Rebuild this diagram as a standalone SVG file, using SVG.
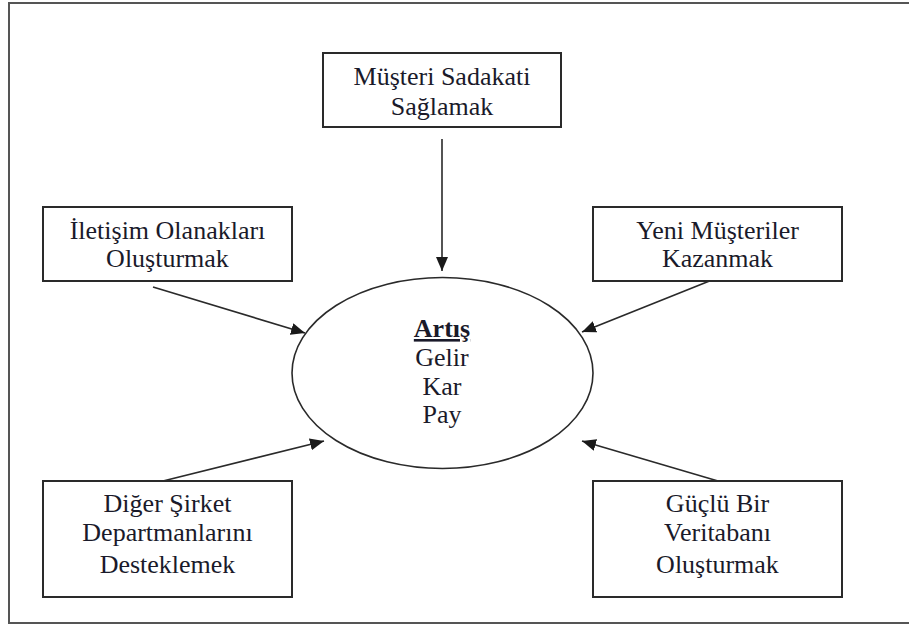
<svg xmlns="http://www.w3.org/2000/svg" width="909" height="626" viewBox="0 0 909 626">
<style>
.box{fill:#fff;stroke:#2a2a2a;stroke-width:2}
.lbl{font-family:"Liberation Serif","Times New Roman",serif;font-size:26px;fill:#1a1a2a;text-anchor:middle}
.conn{stroke:#2a2a2a;stroke-width:1.6;fill:none;marker-end:url(#ah)}
</style>
<defs>
<marker id="ah" markerUnits="userSpaceOnUse" markerWidth="16" markerHeight="12" refX="14" refY="6" orient="auto">
<path d="M0,0 L14,6 L0,12 Z" fill="#1a1a1a"/>
</marker>
</defs>
<rect x="0" y="0" width="909" height="626" fill="#fff"/>
<rect x="9" y="3" width="906" height="620" fill="none" stroke="#555" stroke-width="2"/>
<g id="connectors">
<line class="conn" x1="442" y1="139" x2="442" y2="271"/>
<line class="conn" x1="153" y1="287" x2="305" y2="333"/>
<line class="conn" x1="717" y1="278" x2="582" y2="332"/>
<line class="conn" x1="163" y1="481" x2="324" y2="441"/>
<line class="conn" x1="718" y1="481" x2="582" y2="441"/>
</g>
<g id="center">
<ellipse cx="442.5" cy="373" rx="150.5" ry="95.5" fill="none" stroke="#2a2a2a" stroke-width="1.6"/>
<text class="lbl" x="442" y="337" font-weight="bold" text-decoration="underline">Artış</text>
<text class="lbl" x="442" y="366">Gelir</text>
<text class="lbl" x="442" y="395">Kar</text>
<text class="lbl" x="442" y="423">Pay</text>
</g>
<g id="musteri-sadakati">
<rect class="box" x="323" y="53" width="238" height="74"/>
<text class="lbl" x="442" y="85">Müşteri Sadakati</text>
<text class="lbl" x="442" y="115">Sağlamak</text>
</g>
<g id="iletisim">
<rect class="box" x="43" y="207" width="249" height="74"/>
<text class="lbl" x="167.5" y="239">İletişim Olanakları</text>
<text class="lbl" x="167.5" y="267">Oluşturmak</text>
</g>
<g id="yeni-musteriler">
<rect class="box" x="593" y="207" width="249" height="74"/>
<text class="lbl" x="717.5" y="239">Yeni Müşteriler</text>
<text class="lbl" x="717.5" y="267">Kazanmak</text>
</g>
<g id="diger-sirket">
<rect class="box" x="43" y="481" width="249" height="116"/>
<text class="lbl" x="167.5" y="512">Diğer Şirket</text>
<text class="lbl" x="167.5" y="541">Departmanlarını</text>
<text class="lbl" x="167.5" y="573">Desteklemek</text>
</g>
<g id="veritabani">
<rect class="box" x="593" y="481" width="249" height="116"/>
<text class="lbl" x="717.5" y="512">Güçlü Bir</text>
<text class="lbl" x="717.5" y="541">Veritabanı</text>
<text class="lbl" x="717.5" y="573">Oluşturmak</text>
</g>
</svg>
